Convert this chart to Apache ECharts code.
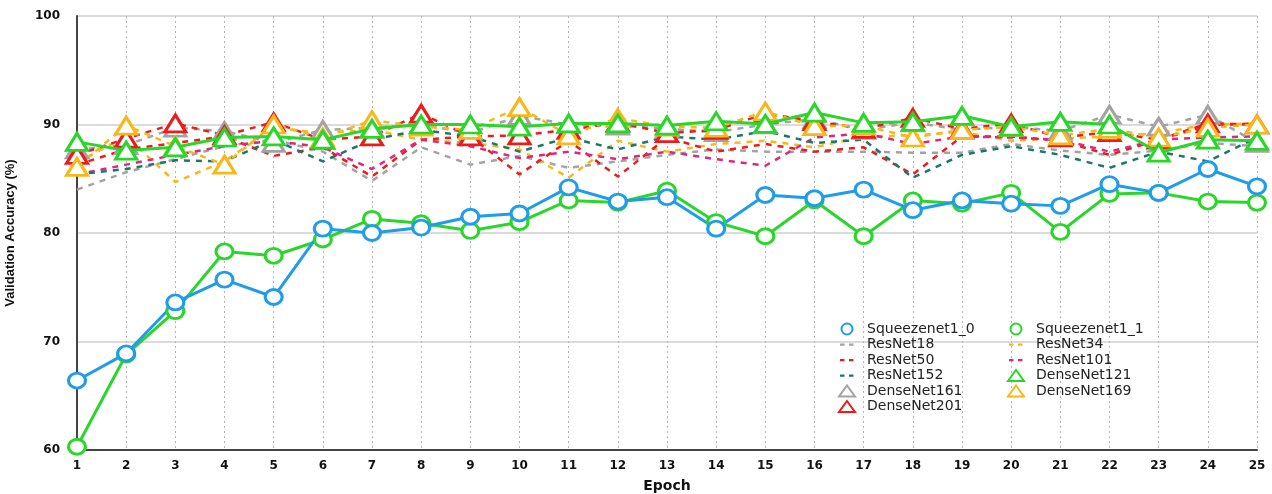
<!DOCTYPE html>
<html>
<head>
<meta charset="utf-8">
<script src="https://cdn.jsdelivr.net/npm/echarts@6/dist/echarts.min.js"></script>
<style>
  html, body { margin: 0; padding: 0; background: #fff; }
  #chart { width: 1272px; height: 494px; }
</style>
</head>
<body>
<div id="chart"></div>
<script>
// Epoch labels along the x axis
const epochs = ['1','2','3','4','5','6','7','8','9','10','11','12','13','14','15','16','17','18','19','20','21','22','23','24','25'];

// Validation accuracy (%) per epoch for each network
const squeezenet1_0 = [66.4, 68.9, 73.6, 75.7, 74.1, 80.4, 80.0, 80.5, 81.5, 81.8, 84.2, 82.9, 83.3, 80.4, 83.5, 83.2, 84.0, 82.1, 83.0, 82.7, 82.5, 84.5, 83.7, 85.9, 84.3];
const squeezenet1_1 = [60.3, 68.8, 72.8, 78.3, 77.9, 79.4, 81.3, 80.9, 80.2, 81.0, 83.0, 82.8, 83.9, 81.0, 79.7, 83.0, 79.7, 83.0, 82.7, 83.7, 80.1, 83.6, 83.7, 82.9, 82.8];
const resnet18  = [84.0, 85.6, 86.8, 88.0, 88.6, 87.5, 84.8, 87.9, 86.3, 87.1, 86.0, 86.6, 87.2, 87.7, 87.5, 87.5, 87.5, 87.4, 87.4, 88.2, 87.6, 87.2, 87.6, 88.3, 88.0];
const resnet34  = [86.5, 88.9, 84.7, 86.6, 89.7, 89.2, 89.5, 88.6, 88.3, 87.7, 85.1, 88.5, 87.5, 88.2, 88.5, 87.9, 88.9, 89.0, 89.3, 88.5, 88.7, 88.9, 89.2, 90.0, 90.1];
const resnet50  = [86.3, 87.7, 88.3, 88.9, 87.1, 87.9, 85.2, 88.6, 88.9, 85.4, 88.5, 85.2, 88.8, 87.5, 88.2, 87.5, 87.9, 85.4, 88.9, 88.9, 88.5, 87.2, 88.6, 89.9, 90.1];
const resnet101 = [85.4, 86.3, 87.2, 88.0, 88.5, 87.9, 85.9, 88.6, 88.0, 86.9, 87.5, 86.8, 87.5, 86.8, 86.2, 88.8, 89.2, 88.2, 88.9, 88.8, 88.6, 87.5, 88.6, 88.8, 88.9];
const resnet152 = [85.4, 85.9, 86.7, 86.6, 88.6, 86.6, 88.6, 89.5, 88.9, 87.5, 88.8, 87.7, 88.9, 88.6, 89.4, 88.3, 88.6, 85.1, 87.2, 88.0, 87.2, 86.0, 87.5, 86.6, 88.8];
const densenet121 = [88.4, 87.6, 87.9, 88.8, 88.9, 88.6, 89.6, 90.0, 90.0, 89.8, 90.1, 90.1, 89.9, 90.3, 90.05, 91.1, 90.15, 90.25, 90.8, 89.8, 90.25, 90.0, 87.4, 88.6, 88.5];
const densenet161 = [87.7, 88.1, 89.7, 89.4, 88.3, 89.5, 89.7, 90.0, 89.2, 90.8, 90.0, 89.9, 89.6, 89.3, 90.0, 90.5, 89.5, 90.2, 89.5, 89.8, 89.4, 90.9, 89.8, 90.9, 88.3];
const densenet169 = [86.1, 89.9, 88.0, 86.3, 90.0, 88.8, 90.4, 89.8, 89.5, 91.6, 89.0, 90.6, 89.8, 89.7, 91.2, 89.85, 89.9, 88.8, 89.5, 89.8, 89.0, 89.6, 88.8, 89.7, 90.0];
const densenet201 = [87.2, 88.7, 90.1, 89.0, 90.2, 88.6, 88.9, 91.0, 88.9, 89.0, 89.5, 90.2, 89.2, 89.5, 91.0, 90.3, 89.6, 90.6, 89.6, 90.1, 88.8, 89.3, 88.6, 90.1, 90.0];

// Y axis range and tick step
const yMin = 60, yMax = 100, yStep = 10;

const C = {
  blue: '#1f9cea', green: '#2bd62b', gray: '#a3a3a3', orange: '#f7b81c',
  red: '#ec1c1c', magenta: '#e0267e', teal: '#1b7868'
};
const SANS = '"Liberation Sans", Arial, sans-serif';
const WIDE = '"DejaVu Sans", sans-serif';

// Legend glyph: two short dashes inside a 16x11 box (the bare moves fix the box)
const DASH_ICON = 'path://M0,0 M16,11 M1,4.5h4.5v2.2h-4.5z M10,4.5h4.5v2.2h-4.5z';

function circleSeries(name, data, color, z) {
  return {
    name, type: 'line', data, z,
    symbol: 'circle', symbolSize: [17, 15], showSymbol: true,
    lineStyle: { color, width: 3 },
    itemStyle: { color: '#fff', borderColor: color, borderWidth: 3 },
    emphasis: { disabled: true }
  };
}
function dashedSeries(name, data, color, z) {
  return {
    name, type: 'line', data, z,
    symbol: 'none', showSymbol: false,
    lineStyle: { color, width: 2.5, type: [6, 6] },
    itemStyle: { color, borderWidth: 0 },
    emphasis: { disabled: true }
  };
}
function triangleSeries(name, data, color, z, solid) {
  return {
    name, type: 'line', data, z,
    symbol: 'triangle', symbolSize: [21, 17], showSymbol: true,
    lineStyle: solid ? { color, width: 3 } : { color, width: 2.5, type: [6, 6] },
    itemStyle: { color: '#fff', borderColor: color, borderWidth: 3 },
    emphasis: { disabled: true }
  };
}

const legendText = { fontFamily: WIDE, fontSize: 14, color: '#222', padding: [0, 0, 0, 7] };
const legendBase = {
  orient: 'vertical', top: 317, itemGap: 1.5,
  itemWidth: 16, itemHeight: 11, textStyle: legendText, selectedMode: false
};

const chart = echarts.init(document.getElementById('chart'), null, { renderer: 'canvas' });
chart.setOption({
  backgroundColor: '#fff',
  animation: false,
  grid: { left: 77, right: 15, top: 16, bottom: 44, containLabel: false, outerBoundsMode: 'none' },
  legend: [
    Object.assign({}, legendBase, {
      left: 833,
      data: [
        { name: 'Squeezenet1_0', icon: 'circle' },
        { name: 'ResNet18', icon: DASH_ICON },
        { name: 'ResNet50', icon: DASH_ICON },
        { name: 'ResNet152', icon: DASH_ICON },
        { name: 'DenseNet161', icon: 'triangle' },
        { name: 'DenseNet201', icon: 'triangle' }
      ]
    }),
    Object.assign({}, legendBase, {
      left: 1002,
      data: [
        { name: 'Squeezenet1_1', icon: 'circle' },
        { name: 'ResNet34', icon: DASH_ICON },
        { name: 'ResNet101', icon: DASH_ICON },
        { name: 'DenseNet121', icon: 'triangle' },
        { name: 'DenseNet169', icon: 'triangle' }
      ]
    })
  ],
  xAxis: {
    type: 'category', data: epochs, boundaryGap: false,
    name: 'Epoch', nameLocation: 'middle', nameGap: 29,
    nameTextStyle: { fontFamily: WIDE, fontSize: 14, fontWeight: 'bold', color: '#111' },
    axisLine: { lineStyle: { color: '#444', width: 2 } },
    axisTick: { show: false },
    axisLabel: { fontFamily: WIDE, fontSize: 12, fontWeight: 'bold', color: '#111', margin: 10 },
    splitLine: { show: true, lineStyle: { color: '#b5b5b5', type: [2, 3], width: 1 } }
  },
  yAxis: {
    type: 'value', min: yMin, max: yMax, interval: yStep,
    name: 'Validation Accuracy (%)', nameLocation: 'middle', nameGap: 60,
    nameTextStyle: { fontFamily: SANS, fontSize: 13, fontWeight: 'bold', color: '#111' },
    axisLine: { show: true, lineStyle: { color: '#444', width: 2 } },
    axisTick: { show: false },
    axisLabel: { fontFamily: WIDE, fontSize: 12, fontWeight: 'bold', color: '#111', margin: 17 },
    splitLine: { show: true, lineStyle: { color: '#cfcfcf', width: 1.5 } }
  },
  series: [
    dashedSeries('ResNet18', resnet18, C.gray, 2),
    dashedSeries('ResNet34', resnet34, C.orange, 2),
    dashedSeries('ResNet50', resnet50, C.red, 2),
    dashedSeries('ResNet101', resnet101, C.magenta, 2),
    dashedSeries('ResNet152', resnet152, C.teal, 2),
    triangleSeries('DenseNet161', densenet161, C.gray, 3, false),
    triangleSeries('DenseNet201', densenet201, C.red, 3, false),
    triangleSeries('DenseNet169', densenet169, C.orange, 3, false),
    triangleSeries('DenseNet121', densenet121, C.green, 4, true),
    circleSeries('Squeezenet1_1', squeezenet1_1, C.green, 5),
    circleSeries('Squeezenet1_0', squeezenet1_0, C.blue, 5)
  ]
});
</script>
</body>
</html>
